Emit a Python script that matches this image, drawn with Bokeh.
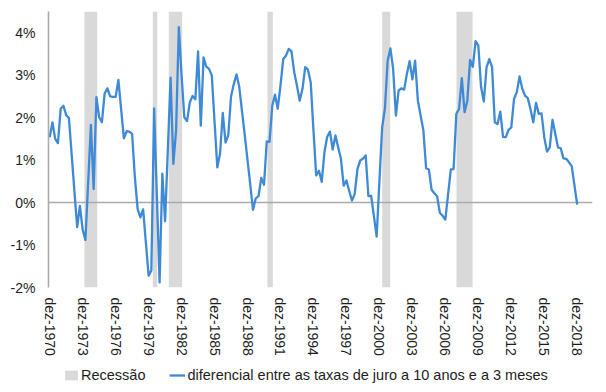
import pandas as pd
from bokeh.plotting import figure
from bokeh.layouts import column
from bokeh.models import (Range1d, FixedTicker, CustomJSTickFormatter,
                          Legend, LegendItem)
from bokeh.embed import file_html
from bokeh.resources import INLINE

# ---------------- data ----------------
first_month = "1970-12-01"          # dez-1970, quarterly observations
spread = [
    1.54, 1.89, 1.50, 1.40, 2.21, 2.28, 2.06, 1.99, 1.13, 0.27,
    -0.58, -0.08, -0.64, -0.88, 0.48, 1.83, 0.32, 2.48, 2.01, 1.89,
    2.57, 2.69, 2.50, 2.49, 2.49, 2.89, 2.20, 1.51, 1.68, 1.67,
    1.62, 0.60, -0.15, -0.35, -0.16, -0.94, -1.72, -1.60, 2.22, 0.17,
    -1.88, 0.68, -0.44, 1.25, 2.94, 0.91, 1.70, 4.13, 3.00, 2.01,
    1.92, 2.36, 2.51, 2.43, 3.56, 1.81, 3.42, 3.20, 3.15, 2.99,
    1.91, 0.83, 1.15, 2.11, 1.41, 1.59, 2.50, 2.79, 3.02, 2.72,
    2.15, 1.58, 1.00, 0.42, -0.17, 0.10, 0.15, 0.58, 0.42, 1.44,
    1.43, 2.28, 2.54, 2.21, 2.76, 3.38, 3.46, 3.62, 3.56, 3.07,
    2.75, 2.40, 2.68, 3.19, 3.13, 2.83, 1.70, 0.64, 0.75, 0.49,
    1.19, 1.55, 1.67, 1.25, 1.58, 1.30, 1.03, 0.40, 0.52, 0.28,
    0.05, 0.20, 0.79, 0.99, 1.03, 1.11, 0.15, 0.16, -0.32, -0.80,
    0.50, 1.77, 2.21, 3.34, 3.63, 3.15, 2.05, 2.64, 2.69, 2.66,
    3.03, 3.33, 2.90, 3.34, 2.40, 2.05, 1.70, 0.81, 0.78, 0.30,
    0.22, 0.15, -0.24, -0.31, -0.40, 0.20, 0.78, 0.79, 2.09, 2.21,
    2.93, 2.13, 2.40, 3.36, 3.20, 3.80, 3.70, 2.72, 2.38, 3.19,
    3.38, 3.19, 1.89, 1.85, 2.14, 1.55, 1.54, 1.71, 1.77, 2.44,
    2.60, 2.97, 2.68, 2.52, 2.46, 2.20, 1.89, 2.35, 2.09, 2.10,
    1.54, 1.20, 1.30, 1.95, 1.62, 1.30, 1.28, 1.04, 1.03, 0.95,
    0.86, 0.40, -0.05,
]
rec_start = [1974.08, 1980.30, 1981.75, 1990.73, 2001.17, 2007.93]
rec_end = [1975.24, 1980.70, 1982.97, 1991.22, 2001.90, 2009.39]

x_tick_labels = ["dez-1970", "dez-1973", "dez-1976", "dez-1979", "dez-1982",
                 "dez-1985", "dez-1988", "dez-1991", "dez-1994", "dez-1997",
                 "dez-2000", "dez-2003", "dez-2006", "dez-2009", "dez-2012",
                 "dez-2015", "dez-2018"]
y_ticks = [-2, -1, 0, 1, 2, 3, 4]
y_tick_labels = ["-2%", "-1%", "0%", "1%", "2%", "3%", "4%"]

series_label = "diferencial entre as taxas de juro a 10 anos e a 3 meses"
rec_label = "Recessão"

# ---------------- derived ----------------
dates = pd.date_range(first_month, periods=len(spread), freq="3MS")
t = list(dates.year + (dates.month - 1) / 12.0)
x_ticks = [int(s[-4:]) + 11 / 12.0 for s in x_tick_labels]

FONT = "Liberation Sans"
TXT = "#1E1E1E"
AXIS_GREY = "#ABABAB"
BLUE = "#3F8AD6"
BAND = "#D9D9D9"

y_lo, y_hi = -2.0, 4.5

p = figure(width=606, height=362,
           x_range=Range1d(1970.808, 2020.306),
           y_range=Range1d(y_lo, y_hi),
           output_backend="svg", toolbar_location=None,
           min_border_left=48, min_border_right=14,
           min_border_top=11, min_border_bottom=75)
p.outline_line_color = None
p.xgrid.visible = False
p.ygrid.visible = False
p.background_fill_color = "white"
p.border_fill_color = "white"

p.quad(left=rec_start, right=rec_end, bottom=y_lo, top=y_hi,
       fill_color=BAND, line_color=None)
p.hspan(y=[0], line_color=AXIS_GREY, line_width=1.6)
p.line(t, spread, line_color=BLUE, line_width=2.3, line_join="round")

JS = ("const i = tpos.findIndex(v => Math.abs(v - tick) < 1e-3);"
      " return i >= 0 ? tlab[i] : '';")

# y axis
ya = p.yaxis[0]
ya.ticker = FixedTicker(ticks=y_ticks)
ya.formatter = CustomJSTickFormatter(
    args=dict(tpos=y_ticks, tlab=y_tick_labels), code=JS)
ya.axis_line_color = AXIS_GREY
ya.axis_line_width = 1.6
ya.major_tick_line_color = None
ya.minor_tick_line_color = None
ya.major_tick_out = 0
ya.major_tick_in = 0
ya.major_label_standoff = 13
ya.major_label_text_font = FONT
ya.major_label_text_font_size = "14px"
ya.major_label_text_color = TXT

# x axis
xa = p.xaxis[0]
xa.ticker = FixedTicker(ticks=x_ticks)
xa.formatter = CustomJSTickFormatter(
    args=dict(tpos=x_ticks, tlab=x_tick_labels), code=JS)
xa.axis_line_color = None
xa.major_tick_line_color = None
xa.minor_tick_line_color = None
xa.major_tick_out = 0
xa.major_tick_in = 0
xa.major_label_standoff = 10
xa.major_label_orientation = "vertical"
xa.major_label_text_font = FONT
xa.major_label_text_font_size = "14px"
xa.major_label_text_color = TXT

# ---------------- legend strip (separate small figure) ----------------
# legend-only renderers: one entry each, placed outside the strip's range
lg = figure(width=606, height=30, x_range=Range1d(0, 1), y_range=Range1d(0, 1),
            x_axis_type=None, y_axis_type=None,
            output_backend="svg", toolbar_location=None,
            min_border_left=0, min_border_right=0,
            min_border_top=0, min_border_bottom=0)
lg.grid.visible = False
lg.outline_line_color = None
lg.background_fill_color = "white"
lg.border_fill_color = "white"
r_band = lg.quad(left=[5], right=[6], bottom=[5], top=[6],
                 fill_color=BAND, line_color=None)
r_line = lg.line(x=[5, 6], y=[5, 5], line_color=BLUE, line_width=2.3)

legend = Legend(
    items=[LegendItem(label=rec_label, renderers=[r_band]),
           LegendItem(label=series_label, renderers=[r_line])],
    orientation="horizontal", location=(15, 9),
    padding=0, margin=0, spacing=24,
    glyph_width=16, glyph_height=12, label_height=14,
    label_standoff=2,
    label_text_font=FONT, label_text_font_size="14.5px",
    label_text_color=TXT,
    background_fill_alpha=0, border_line_alpha=0)
lg.add_layout(legend, "center")

layout = column(p, lg, spacing=0)
open("out.html", "w").write(file_html(layout, INLINE))
